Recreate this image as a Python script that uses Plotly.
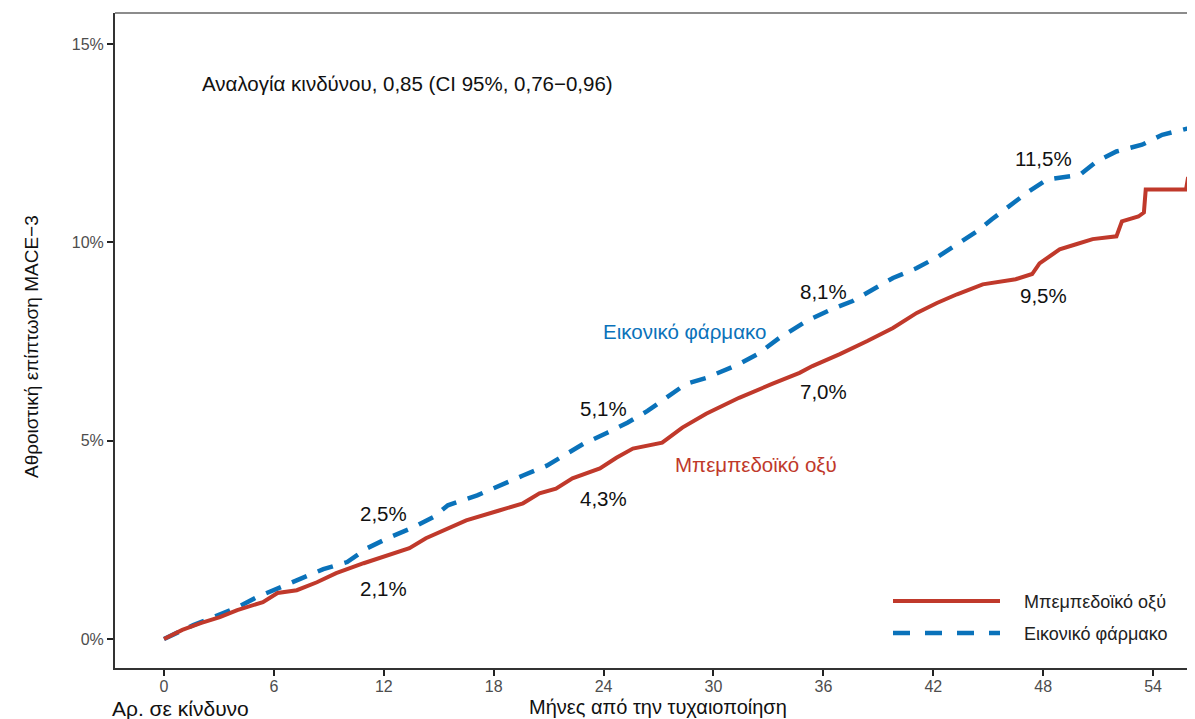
import plotly.graph_objects as go

# ---- data (months, cumulative incidence %) ----
bemp_months = [0, 1.0, 2.0, 3.05, 4.0, 5.4, 6.2, 7.25, 8.35, 9.4, 10.9, 12.3, 13.4, 14.3, 15.6,
               16.5, 18.3, 19.6, 20.5, 21.4, 22.3, 23.8, 24.7, 25.6, 27.2, 28.3, 29.6, 31.4,
               33.2, 34.7, 35.4, 36.9, 38.4, 39.8, 41.1, 42.2, 43.3, 44.7, 46.5, 47.4, 47.8,
               48.9, 49.8, 50.7, 52.0, 52.3, 53.2, 53.5, 53.6, 55.8, 55.9, 56.4]
bemp_values = [0, 0.23, 0.40, 0.55, 0.73, 0.93, 1.16, 1.23, 1.43, 1.66, 1.91, 2.11, 2.29, 2.54, 2.79,
               2.99, 3.24, 3.42, 3.67, 3.79, 4.05, 4.30, 4.57, 4.80, 4.95, 5.33, 5.68, 6.08,
               6.43, 6.71, 6.88, 7.18, 7.51, 7.84, 8.22, 8.47, 8.69, 8.94, 9.07, 9.20, 9.47,
               9.82, 9.95, 10.08, 10.15, 10.53, 10.65, 10.75, 11.33, 11.33, 11.60, 11.60]

plac_months = [0, 1.6, 2.7, 4.0, 5.1, 6.2, 7.6, 8.7, 10.0, 11.1, 12.3, 13.6, 14.7, 15.5,
               17.1, 18.3, 19.6, 20.9, 21.8, 22.9, 24.2, 25.3, 26.4, 27.4, 28.5, 29.6, 31.4,
               32.4, 33.6, 35.1, 36.5, 37.6, 38.7, 39.8, 41.1, 42.3, 43.3, 44.4, 45.2, 46.3,
               47.2, 48.2, 50.0, 50.9, 52.0, 53.4, 54.5, 55.8, 56.4]
plac_values = [0, 0.35, 0.55, 0.80, 1.06, 1.28, 1.53, 1.76, 1.94, 2.29, 2.56, 2.81, 3.07, 3.37,
               3.62, 3.87, 4.12, 4.37, 4.62, 4.92, 5.20, 5.45, 5.75, 6.08, 6.43, 6.58, 6.93,
               7.18, 7.59, 8.02, 8.32, 8.52, 8.82, 9.10, 9.35, 9.65, 9.95, 10.28, 10.58, 10.95,
               11.28, 11.58, 11.70, 12.03, 12.29, 12.46, 12.71, 12.86, 12.90]

label_months = [12, 24, 36, 48]
bemp_labels = [2.1, 4.3, 7.0, 9.5]
plac_labels = [2.5, 5.1, 8.1, 11.5]
bemp_shift = [-33, -30, -30, -33]
plac_shift = [26, 28, 26, 24]

x_ticks = [0, 6, 12, 18, 24, 30, 36, 42, 48, 54]
y_ticks = [0, 5, 10, 15]
y_ticktext = ["0%", "5%", "10%", "15%"]

RED = "#C0392B"
BLUE = "#0A72BA"
FONT = "Liberation Sans, Arial, sans-serif"

# page body has an 8px margin; size the figure so it lands where the reference is
OFF = 8
W, H = 1195 - OFF, 719 - OFF
L, R, T, B = 115 - OFF, 0, 13 - OFF, 51
PW, PH = W - L - R, H - T - B


def pxx(xp):
    return (xp - OFF - L) / PW


def pyy(yp):
    return (H - B - (yp - OFF)) / PH


fig = go.Figure()
fig.add_trace(go.Scatter(x=plac_months, y=plac_values, mode="lines",
                         line=dict(color=BLUE, width=4.5, dash="16px,12px"),
                         name="Εικονικό φάρμακο", showlegend=False, hoverinfo="skip"))
fig.add_trace(go.Scatter(x=bemp_months, y=bemp_values, mode="lines",
                         line=dict(color=RED, width=4),
                         name="Μπεμπεδοϊκό οξύ", showlegend=False, hoverinfo="skip"))


def fmt(v):
    return (f"{v:.1f}%").replace(".", ",")


for m, v, s in zip(label_months, plac_labels, plac_shift):
    fig.add_annotation(x=m, y=v, text=fmt(v), showarrow=False, yshift=s,
                       xanchor="center", yanchor="middle",
                       font=dict(size=20.5, color="#111111", family=FONT))
for m, v, s in zip(label_months, bemp_labels, bemp_shift):
    fig.add_annotation(x=m, y=v, text=fmt(v), showarrow=False, yshift=s,
                       xanchor="center", yanchor="middle",
                       font=dict(size=20.5, color="#111111", family=FONT))

# curve labels
fig.add_annotation(x=28.4, y=7.75, text="Εικονικό φάρμακο", showarrow=False,
                   xanchor="center", yanchor="middle",
                   font=dict(size=20.5, color=BLUE, family=FONT))
fig.add_annotation(x=32.3, y=4.4, text="Μπεμπεδοϊκό οξύ", showarrow=False,
                   xanchor="center", yanchor="middle",
                   font=dict(size=20.5, color=RED, family=FONT))
# hazard ratio
fig.add_annotation(x=1.95, y=14.0, text="Αναλογία κινδύνου, 0,85 (CI 95%, 0,76\u22120,96)",
                   showarrow=False, xanchor="left", yanchor="middle",
                   font=dict(size=20.5, color="#111111", family=FONT))

# legend drawn manually
fig.add_shape(type="line", xref="paper", yref="paper", x0=pxx(893), x1=pxx(1000),
              y0=pyy(601), y1=pyy(601), line=dict(color=RED, width=4))
fig.add_shape(type="line", xref="paper", yref="paper", x0=pxx(893), x1=pxx(1000),
              y0=pyy(633), y1=pyy(633), line=dict(color=BLUE, width=4.5, dash="17px,15px"))
fig.add_annotation(xref="paper", yref="paper", x=pxx(1022), y=pyy(602),
                   text="Μπεμπεδοϊκό οξύ", showarrow=False, xanchor="left", yanchor="middle",
                   font=dict(size=18, color="#222222", family=FONT))
fig.add_annotation(xref="paper", yref="paper", x=pxx(1022), y=pyy(634),
                   text="Εικονικό φάρμακο", showarrow=False, xanchor="left", yanchor="middle",
                   font=dict(size=18, color="#222222", family=FONT))

# top border of panel
fig.add_shape(type="line", xref="paper", yref="paper", x0=0, x1=1, y0=1, y1=1,
              line=dict(color="#666666", width=1.5))

# axis titles and risk-table header
fig.add_annotation(xref="paper", yref="paper", x=pxx(658), y=pyy(707),
                   text="Μήνες από την τυχαιοποίηση", showarrow=False,
                   xanchor="center", yanchor="middle",
                   font=dict(size=20, color="#111111", family=FONT))
fig.add_annotation(xref="paper", yref="paper", x=pxx(110), y=pyy(708),
                   text="Αρ. σε κίνδυνο", showarrow=False, xanchor="left", yanchor="middle",
                   font=dict(size=21, color="#111111", family=FONT))
fig.add_annotation(xref="paper", yref="paper", x=pxx(31), y=pyy(347),
                   text="Αθροιστική επίπτωση MACE\u22123", showarrow=False, textangle=-90,
                   xanchor="center", yanchor="middle",
                   font=dict(size=19, color="#111111", family=FONT))

fig.update_layout(
    width=W, height=H,
    margin=dict(l=L, r=R, t=T, b=B),
    paper_bgcolor="white", plot_bgcolor="white",
    font=dict(family=FONT),
    showlegend=False,
)
fig.update_xaxes(range=[-2.675, 56.29], tickvals=x_ticks, ticks="outside", ticklen=6,
                 tickwidth=2, tickcolor="#222222", showline=True, linecolor="#333333",
                 linewidth=2, showgrid=False, zeroline=False, automargin=False,
                 ticklabelstandoff=-3,
                 tickfont=dict(size=16, color="#4d4d4d", family=FONT))
fig.update_yaxes(range=[-0.731, 15.78], tickvals=y_ticks, ticktext=y_ticktext, ticks="outside",
                 ticklen=6, tickwidth=2, tickcolor="#222222", showline=True,
                 linecolor="#333333", linewidth=2, showgrid=False, zeroline=False,
                 automargin=False,
                 tickfont=dict(size=16, color="#4d4d4d", family=FONT))

fig.write_html("out.html")
